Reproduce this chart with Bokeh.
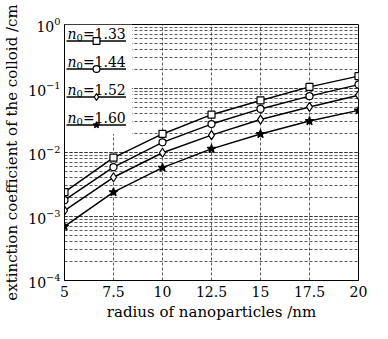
from bokeh.plotting import figure
from bokeh.models import FixedTicker, Legend, LegendItem, Label, BoxAnnotation
from bokeh.embed import file_html
from bokeh.resources import INLINE

# ---- data ----
radius = [5, 7.5, 10, 12.5, 15, 17.5, 20]
ext_133 = [2.4e-3, 8.3e-3, 0.0195, 0.039, 0.065, 0.106, 0.156]
ext_144 = [1.8e-3, 5.9e-3, 0.0144, 0.0278, 0.048, 0.076, 0.115]
ext_152 = [1.24e-3, 4.1e-3, 0.0099, 0.0187, 0.0327, 0.0515, 0.0787]
ext_160 = [7.0e-4, 2.4e-3, 0.0058, 0.0114, 0.0195, 0.031, 0.0455]
series_names = ["1.33", "1.44", "1.52", "1.60"]
x_ticks = [5, 7.5, 10, 12.5, 15, 17.5, 20]
x_tick_labels = ["5", "7.5", "10", "12.5", "15", "17.5", "20"]

FONT = "DejaVu Serif"
W, H = 372, 323
BL, BR, BT, BB = 62, 14, 24, 42
FW, FH = float(W - BL - BR), float(H - BT - BB)

p = figure(width=W, height=H, x_range=(5, 20), y_range=(1e-4, 1),
           y_axis_type="log", output_backend="svg", toolbar_location=None,
           min_border_left=BL, min_border_right=BR, min_border_top=BT, min_border_bottom=BB)

p.background_fill_color = "white"
p.border_fill_color = "white"
p.outline_line_color = "black"
p.outline_line_width = 1

p.xaxis.ticker = FixedTicker(ticks=x_ticks)
p.xaxis.major_label_overrides = {t: l for t, l in zip(x_ticks, x_tick_labels)}
p.xaxis.axis_label = "radius of nanoparticles /nm"
p.yaxis.axis_label = "extinction coefficient of the colloid /cm"

for ax in [p.xaxis[0], p.yaxis[0]]:
    ax.axis_label_text_font = FONT
    ax.axis_label_text_font_style = "normal"
    ax.axis_label_text_color = "black"
    ax.axis_label_text_font_size = "15px"
    ax.major_label_text_font = FONT
    ax.major_label_text_font_size = "14px"
    ax.major_label_text_color = "black"
    ax.major_tick_in = 0
    ax.major_tick_out = 0
    ax.minor_tick_in = 0
    ax.minor_tick_out = 0
    ax.axis_line_color = "black"
p.xaxis.major_label_standoff = 5
p.xaxis.axis_label_standoff = 3
p.yaxis.major_label_standoff = 4
p.yaxis.axis_label_standoff = 4

for g in [p.xgrid[0], p.ygrid[0]]:
    g.grid_line_color = "#333333"
    g.grid_line_dash = "3 2"
    g.grid_line_width = 1
    g.grid_line_alpha = 0.8
p.ygrid.minor_grid_line_color = "#333333"
p.ygrid.minor_grid_line_dash = "3 2"
p.ygrid.minor_grid_line_alpha = 0.8


def dx(px):
    return 5 + 15 * px / FW


def dy(px_from_top):
    return 10 ** (-4 * px_from_top / FH)


# white legend background (under the legend)
p.add_layout(BoxAnnotation(left=5, right=dx(68), top=1, bottom=dy(110),
                           fill_color="white", fill_alpha=1.0, line_color=None,
                           level="underlay"))

markers = ["square", "circle", "diamond", "star"]
fills = ["white", "white", "white", "black"]
sizes = [7, 7, 9, 9]
items = []
for ys, name, m, fc, sz in zip([ext_133, ext_144, ext_152, ext_160], series_names, markers, fills, sizes):
    l = p.line(radius, ys, line_color="black", line_width=1.5)
    s = p.scatter(radius, ys, marker=m, size=sz, fill_color=fc, line_color="black", line_width=1.2)
    items.append(LegendItem(label=" ", renderers=[l, s]))

legend = Legend(items=items, location="top_left", margin=2, padding=8, spacing=0,
                glyph_width=60, glyph_height=17, label_width=0, label_standoff=0,
                label_text_font_size="1px", label_height=28,
                background_fill_alpha=0.0, border_line_color=None)
p.add_layout(legend)

for i, name in enumerate(series_names):
    yl = 18.5 + 28 * i - 8.5
    p.add_layout(Label(x=dx(3), y=dy(yl), text="n",
                       text_font=FONT, text_font_style="italic", text_font_size="14px",
                       text_baseline="alphabetic", text_color="black"))
    p.add_layout(Label(x=dx(12), y=dy(yl + 3.5), text="0",
                       text_font=FONT, text_font_size="10px",
                       text_baseline="alphabetic", text_color="black"))
    p.add_layout(Label(x=dx(18.5), y=dy(yl), text="=" + name,
                       text_font=FONT, text_font_size="14px",
                       text_baseline="alphabetic", text_color="black"))

open("out.html", "w").write(file_html(p, INLINE))
